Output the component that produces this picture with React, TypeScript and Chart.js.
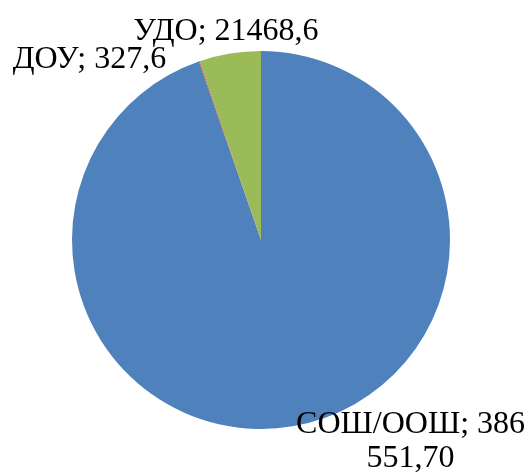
import React, { useEffect, useRef } from "react";
import { Chart, registerables } from "chart.js";

Chart.register(...registerables);

const categories = ["СОШ/ООШ", "ДОУ", "УДО"];
const values = [386551.7, 327.6, 21468.6];
const labelTexts = [["СОШ/ООШ; 386", "551,70"], ["ДОУ; 327,6"], ["УДО; 21468,6"]];
const colors = ["#4F81BD", "#C0504D", "#9BBB59"];

// label placement relative to the outer midpoint of each slice
const labelOffsets = [
  { dx: 118, dy: 7, align: "center" as CanvasTextAlign },
  { dx: -33, dy: 7, align: "right" as CanvasTextAlign },
  { dx: -4, dy: -14, align: "center" as CanvasTextAlign },
];

const labelPlugin = {
  id: "outerLabels",
  afterDatasetsDraw(chart: any) {
    const ctx = chart.ctx;
    const meta = chart.getDatasetMeta(0);
    ctx.save();
    ctx.font = '32px "Liberation Serif", "Times New Roman", serif';
    ctx.fillStyle = "#000";
    ctx.textBaseline = "alphabetic";
    meta.data.forEach((arc: any, i: number) => {
      const { x, y, startAngle, endAngle, outerRadius } = arc.getProps(
        ["x", "y", "startAngle", "endAngle", "outerRadius"],
        true
      );
      const mid = (startAngle + endAngle) / 2;
      const ox = x + outerRadius * Math.cos(mid);
      const oy = y + outerRadius * Math.sin(mid);
      const off = labelOffsets[i];
      ctx.textAlign = off.align;
      labelTexts[i].forEach((line, j) => {
        ctx.fillText(line, ox + off.dx, oy + off.dy + j * 34);
      });
    });
    ctx.restore();
  },
};

export default function App() {
  const ref = useRef<HTMLCanvasElement>(null);
  useEffect(() => {
    document.body.style.margin = "0";
    const chart = new Chart(ref.current!, {
      type: "pie",
      data: {
        labels: categories,
        datasets: [
          {
            data: values,
            backgroundColor: colors,
            borderWidth: 0,
          },
        ],
      },
      options: {
        responsive: false,
        animation: false,
        layout: { padding: { left: 72, right: 82, top: 51, bottom: 43 } },
        plugins: {
          legend: { display: false },
          tooltip: { enabled: false },
        },
      },
      plugins: [labelPlugin],
    });
    return () => chart.destroy();
  }, []);
  return (
    <div style={{ position: "absolute", left: 0, top: 0, width: 532, height: 472, background: "#fff" }}>
      <canvas ref={ref} width={532} height={472} />
    </div>
  );
}
